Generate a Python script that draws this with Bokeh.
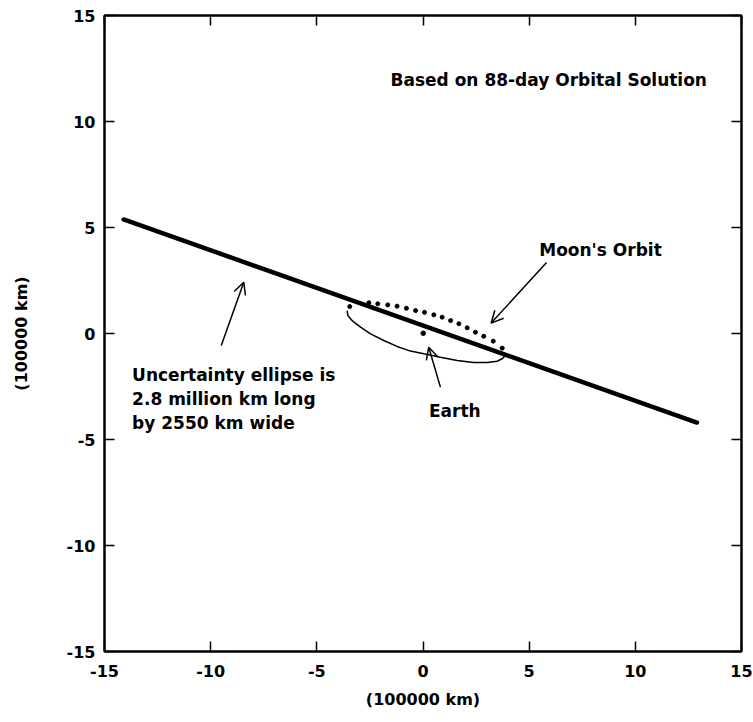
from bokeh.plotting import figure
from bokeh.models import (Range1d, LinearAxis, FixedTicker, Arrow, OpenHead,
                          ColumnDataSource, CustomLabelingPolicy)
from bokeh.core.properties import value
from bokeh.embed import file_html
from bokeh.resources import INLINE

# ---- data (units of 100000 km) ----
ticks = [-15, -10, -5, 0, 5, 10, 15]
tick_labels = ["-15", "-10", "-5", "0", "5", "10", "15"]

# uncertainty ellipse (seen edge-on, a long thin line)
ellipse_x = [-14.1, 12.9]
ellipse_y = [5.38, -4.2]

# Moon's orbit, far side (dotted)
moon_far_x = [-3.45, -2.55, -2.13, -1.66, -1.22, -0.78, -0.35, 0.07, 0.51, 0.90,
              1.30, 1.69, 2.08, 2.47, 2.86, 3.31, 3.73]
moon_far_y = [1.27, 1.45, 1.40, 1.35, 1.29, 1.19, 1.08, 1.00, 0.88, 0.77,
              0.61, 0.46, 0.27, 0.06, -0.13, -0.36, -0.69]

# Moon's orbit, near side (solid)
moon_near_x = [-3.57, -3.54, -3.34, -2.94, -2.47, -1.85, -1.22, -0.59, 0.04, 0.82,
               1.61, 2.39, 3.02, 3.49, 3.73, 3.84]
moon_near_y = [1.08, 0.85, 0.61, 0.30, -0.02, -0.33, -0.61, -0.83, -0.96, -1.12,
               -1.27, -1.37, -1.37, -1.31, -1.19, -1.08]

earth_x = [0.01]
earth_y = [0.01]

# annotations
label_text = ["Based on 88-day Orbital Solution", "Moon's Orbit",
              "Uncertainty ellipse is", "2.8 million km long", "by 2550 km wide", "Earth"]
label_x = [-1.53, 8.36, -13.70, -13.70, -13.70, 1.50]
label_y = [11.97, 3.92, -1.98, -3.11, -4.20, -3.65]
label_align = ["left", "center", "left", "left", "left", "center"]

arrow_x_start = [-9.50, 5.82, 0.82]
arrow_y_start = [-0.57, 3.35, -2.53]
arrow_x_end = [-8.44, 3.21, 0.27]
arrow_y_end = [2.42, 0.49, -0.65]

FONT = "DejaVu Sans"

p = figure(width=753, height=722,
           x_range=Range1d(-15, 15), y_range=Range1d(-15, 15),
           output_backend="svg", toolbar_location=None,
           min_border_left=104, min_border_right=12,
           min_border_top=15, min_border_bottom=71,
           background_fill_color="white", border_fill_color="white")
p.xgrid.visible = False
p.ygrid.visible = False
p.outline_line_color = "black"
p.outline_line_width = 2

hide_labels = CustomLabelingPolicy(code="""
for (const i of [...indices]) indices.unset(i)
return indices
""")

def style_axis(ax, labels=True):
    ax.ticker = FixedTicker(ticks=ticks)
    ax.axis_line_color = "black"
    ax.axis_line_width = 2
    ax.major_tick_in = 10
    ax.major_tick_out = 0
    ax.major_tick_line_width = 1.5
    ax.major_tick_line_color = "black"
    ax.minor_tick_line_color = None
    if labels:
        ax.major_label_overrides = dict(zip(ticks, tick_labels))
        ax.major_label_text_font = FONT
        ax.major_label_text_font_style = "bold"
        ax.major_label_text_font_size = "16px"
        ax.major_label_text_color = "black"
        ax.axis_label_text_font = FONT
        ax.axis_label_text_font_style = "bold"
        ax.axis_label_text_font_size = "16px"
        ax.axis_label_text_color = "black"
    else:
        ax.major_label_policy = hide_labels
        ax.major_label_text_font_size = "1px"
        ax.major_label_standoff = 0

p.xaxis.axis_label = "(100000 km)"
p.yaxis.axis_label = "(100000 km)"
style_axis(p.xaxis[0])
style_axis(p.yaxis[0])
p.xaxis.major_label_standoff = 13
p.yaxis.major_label_standoff = 9
p.xaxis.axis_label_standoff = 10
p.yaxis.axis_label_standoff = 33

top = LinearAxis()
style_axis(top, labels=False)
p.add_layout(top, "above")
right = LinearAxis()
style_axis(right, labels=False)
p.add_layout(right, "right")

# glyphs
p.line(ellipse_x, ellipse_y, line_width=4.5, line_color="black", line_cap="round")
p.line(moon_near_x, moon_near_y, line_width=1.5, line_color="black")
p.scatter(moon_far_x, moon_far_y, size=4, color="black", marker="circle")
p.scatter(earth_x, earth_y, size=4.5, color="black", marker="circle")

src = ColumnDataSource(dict(x=label_x, y=label_y, text=label_text, align=label_align))
p.text(x="x", y="y", text="text", text_align="align", source=src,
       text_font=value(FONT), text_font_style="bold", text_font_size="17px",
       text_baseline="alphabetic", text_color="black")

for xs, ys, xe, ye in zip(arrow_x_start, arrow_y_start, arrow_x_end, arrow_y_end):
    p.add_layout(Arrow(x_start=xs, y_start=ys, x_end=xe, y_end=ye,
                       line_width=1.5, line_color="black",
                       end=OpenHead(size=12, line_width=1.5, line_color="black")))

open("out.html", "w").write(file_html(p, INLINE))
